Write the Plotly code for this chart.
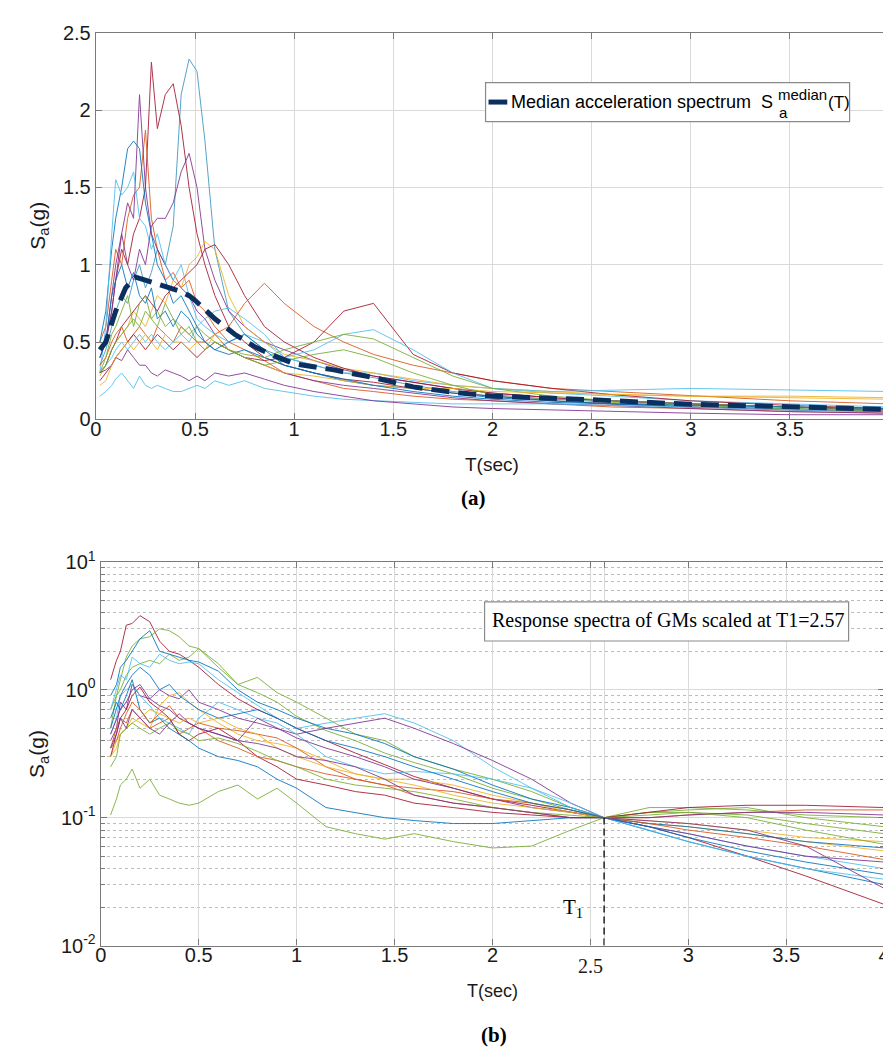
import plotly.graph_objects as go

W, H = 891, 1055

# ---------------- data: panel (a) ----------------
top_T = [0.02, 0.05, 0.08, 0.1, 0.13, 0.16, 0.19, 0.22, 0.25, 0.28, 0.31, 0.35, 0.39, 0.43, 0.47,
         0.51, 0.55, 0.6, 0.67, 0.75, 0.85, 0.95, 1.1, 1.25, 1.4, 1.6, 1.8, 2.0, 2.3, 2.6, 3.0, 3.5, 4.0]

top_records = [
    [.35, .45, .6, .7, .8, .75, .9, 1.0, .85, .95, 1.1, 1.0, 1.25, 2.1, 2.33, 2.25, 1.8, 1.1, .7, .55, .45, .4, .35, .3, .27, .22, .18, .15, .13, .12, .1, .08, .06],
    [.4, .5, .7, .9, 1.1, 1.0, 1.2, 1.3, 1.5, 2.31, 1.88, 2.1, 2.17, 1.9, 1.5, 1.2, 1.0, .8, .6, .5, .4, .35, .3, .26, .24, .2, .17, .15, .12, .1, .08, .06, .05],
    [.5, .6, .9, 1.1, 1.0, 1.3, 1.45, 1.5, 1.87, 1.3, 1.1, .9, .95, .85, .9, .75, .7, .6, .5, .45, .38, .3, .25, .2, .18, .15, .13, .12, .1, .08, .07, .05, .04],
    [.45, .5, .8, 1.0, 1.2, 1.4, 1.3, 2.1, 1.5, 1.2, 1.1, 1.0, .9, .85, .8, .7, .65, .55, .45, .4, .35, .3, .25, .22, .2, .17, .14, .12, .1, .09, .07, .05, .04],
    [.5, .7, 1.1, 1.3, 1.5, 1.75, 1.8, 1.75, 1.4, 1.2, 1.0, .9, .75, .8, .7, .6, .5, .45, .42, .45, .4, .35, .3, .25, .22, .2, .17, .14, .12, .1, .08, .07, .05],
    [.3, .6, 1.2, 1.55, 1.45, 1.5, 1.6, 1.3, 1.25, 1.1, 1.2, 1.0, .9, 1.0, .8, .65, .6, .55, .5, .55, .5, .4, .35, .3, .3, .25, .22, .2, .17, .15, .12, .1, .08],
    [.4, .5, .7, .9, 1.2, 1.0, .9, 1.1, 1.0, 1.25, 1.3, 1.3, 1.4, 1.6, 1.72, 1.5, 1.1, .9, .7, .6, .5, .45, .38, .32, .28, .24, .2, .17, .14, .12, .1, .08, .06],
    [.28, .35, .45, .5, .55, .6, .7, .65, .6, .7, .8, .75, .9, .85, 1.0, 1.05, 1.15, 1.1, .8, .6, .5, .42, .38, .33, .3, .26, .22, .2, .18, .16, .15, .14, .13],
    [.3, .35, .45, .5, .6, .65, .7, .75, .8, .75, .7, .8, .85, .9, .95, 1.0, 1.1, 1.13, 1.0, .8, .6, .5, .4, .33, .28, .24, .2, .17, .14, .12, .1, .08, .06],
    [.35, .4, .5, .55, .6, .5, .55, .6, .55, .5, .6, .55, .5, .6, .55, .5, .5, .55, .6, .75, .88, .75, .6, .5, .42, .35, .3, .25, .2, .18, .15, .12, .1],
    [.25, .3, .35, .4, .45, .5, .55, .5, .45, .5, .55, .5, .45, .5, .45, .4, .45, .5, .45, .4, .38, .4, .5, .7, .75, .42, .3, .25, .2, .16, .12, .09, .07],
    [.3, .35, .4, .45, .5, .45, .5, .55, .5, .55, .5, .45, .5, .55, .5, .6, .65, .7, .72, .65, .55, .4, .45, .55, .58, .45, .3, .2, .18, .19, .2, .19, .18],
    [.3, .35, .45, .5, .55, .6, .65, .6, .7, .65, .6, .75, .65, .6, .55, .6, .55, .5, .45, .42, .4, .45, .5, .55, .52, .4, .28, .2, .15, .12, .1, .08, .06],
    [.15, .18, .22, .26, .3, .25, .2, .28, .22, .2, .22, .2, .18, .18, .2, .22, .2, .25, .22, .25, .2, .18, .15, .13, .12, .11, .1, .1, .1, .09, .08, .06, .05],
    [.3, .32, .35, .4, .38, .45, .4, .35, .35, .3, .28, .32, .3, .28, .25, .28, .25, .3, .28, .3, .26, .22, .18, .15, .12, .1, .08, .07, .06, .05, .04, .03, .03],
    [.22, .25, .35, .4, .45, .5, .45, .5, .55, .5, .45, .55, .5, .5, .45, .5, .45, .55, .45, .4, .35, .3, .28, .25, .22, .2, .2, .18, .17, .16, .15, .15, .14],
    [.3, .4, .55, .6, .7, .8, .6, .75, .8, .65, .7, .6, .65, .55, .6, .5, .45, .5, .45, .4, .35, .38, .42, .45, .4, .3, .22, .16, .13, .11, .09, .07, .05],
    [.4, .5, .8, .9, 1.0, .85, .95, .8, .75, .85, .65, .7, .6, .7, .65, .55, .5, .45, .5, .55, .45, .35, .3, .26, .22, .18, .15, .13, .11, .1, .09, .08, .07],
]
top_colors = ["#3B96BE", "#A2142F", "#D95319", "#7E2F8E", "#0072BD", "#4DBEEE", "#7E2F8E", "#EDB120", "#A2142F",
              "#D95319", "#A2142F", "#4DBEEE", "#77AC30", "#4DBEEE", "#7E2F8E", "#EDB120", "#77AC30", "#0072BD"]

median_T = [0.02, 0.05, 0.1, 0.15, 0.2, 0.25, 0.3, 0.35, 0.42, 0.47, 0.5, 0.6, 0.7, 0.8, 0.9, 1.0,
            1.2, 1.4, 1.6, 1.8, 2.0, 2.5, 3.0, 3.5, 4.0]
median_Sa = [0.45, 0.5, 0.7, 0.85, 0.92, 0.9, 0.88, 0.86, 0.83, 0.8, 0.77, 0.65, 0.55, 0.47, 0.41, 0.36,
             0.32, 0.27, 0.21, 0.175, 0.15, 0.127, 0.097, 0.082, 0.063]

# ---------------- data: panel (b) ----------------
T1 = 2.57
bot_T = [0.05, 0.08, 0.1, 0.13, 0.16, 0.2, 0.25, 0.3, 0.35, 0.4, 0.45, 0.5, 0.6, 0.7, 0.8, 0.9, 1.0,
         1.15, 1.3, 1.45, 1.6, 1.8, 2.0, 2.2, 2.4, 2.57, 2.8, 3.0, 3.3, 3.6, 4.0]
bot_records = [
    [1.2, 1.7, 2.0, 3.2, 3.3, 3.8, 3.4, 2.4, 2.0, 1.9, 1.7, 1.5, 1.1, .85, .7, .6, .5, .4, .32, .26, .21, .17, .14, .125, .11, .1, .085, .07, .05, .035, .021],
    [.5, .9, 1.2, 1.8, 2.2, 2.5, 2.6, 3.0, 2.9, 2.6, 2.2, 2.1, 1.5, 1.1, .95, .8, .62, .48, .4, .32, .27, .22, .17, .14, .115, .1, .11, .115, .12, .1, .085],
    [.7, .9, 1.0, 1.3, 1.5, 1.6, 1.7, 1.6, 1.9, 1.7, 1.8, 2.1, 1.6, 1.1, 1.25, .95, .8, .6, .45, .4, .3, .24, .2, .16, .12, .1, .11, .11, .105, .09, .075],
    [.9, 1.1, 1.5, 1.7, 2.0, 2.5, 2.9, 2.0, 1.9, 1.8, 1.7, 1.65, 1.4, 1.0, .8, .7, .6, .5, .45, .38, .3, .24, .18, .14, .12, .1, .08, .065, .05, .04, .03],
    [.7, 1.0, 1.3, 1.2, 1.8, 1.6, 1.5, 1.9, 1.7, 1.6, 1.65, 1.6, 1.2, .95, .75, .6, .5, .55, .6, .65, .55, .4, .25, .17, .12, .1, .085, .075, .06, .05, .04],
    [.105, .14, .18, .2, .24, .17, .2, .15, .14, .13, .125, .13, .16, .18, .14, .17, .13, .085, .075, .068, .075, .065, .058, .06, .08, .1, .12, .12, .115, .105, .1],
    [.4, .5, .8, .7, 1.1, .9, .85, 1.0, .9, .85, 1.0, .8, .7, .6, .55, .5, .45, .5, .55, .6, .5, .38, .28, .2, .13, .1, .085, .075, .06, .05, .045],
    [.3, .4, .45, .5, .6, .55, .5, .75, .9, .95, .8, .7, .55, .45, .4, .38, .35, .28, .22, .2, .2, .18, .15, .13, .11, .1, .09, .085, .075, .065, .055],
    [.35, .5, .6, .55, .7, .6, .5, .55, .6, .45, .5, .55, .5, .48, .45, .42, .35, .25, .2, .18, .15, .13, .12, .11, .1, .1, .1, .105, .11, .115, .115],
    [.3, .45, .6, .7, .9, 1.05, .8, .7, .6, .45, .4, .45, .5, .4, .3, .25, .2, .18, .16, .15, .13, .12, .11, .105, .1, .1, .11, .12, .125, .125, .12],
    [.45, .6, .9, 1.0, 1.1, .9, .75, .6, .55, .5, .45, .6, .8, .7, .6, .55, .45, .3, .25, .22, .23, .22, .2, .17, .13, .1, .08, .065, .05, .04, .033],
    [.6, .8, .7, .9, 1.2, .7, .55, .6, .5, .45, .4, .35, .3, .28, .25, .2, .17, .12, .11, .1, .095, .09, .09, .095, .1, .1, .09, .085, .075, .065, .058],
    [.45, .6, .7, .8, 1.0, 1.1, .85, .75, .7, .6, .55, .5, .45, .4, .6, .5, .42, .35, .3, .25, .2, .17, .14, .12, .11, .1, .1, .105, .11, .11, .105],
    [.35, .4, .5, .65, .8, .7, .55, .65, .75, .6, .55, .5, .4, .35, .3, .28, .25, .22, .2, .18, .17, .16, .14, .13, .115, .1, .09, .08, .07, .06, .047],
    [.3, .35, .45, .5, .55, .6, .7, .65, .6, .55, .6, .55, .6, .5, .45, .35, .3, .25, .22, .2, .18, .15, .13, .12, .11, .1, .095, .09, .08, .07, .065],
    [.5, .7, .9, 1.1, 1.3, 1.5, 1.3, 1.0, 1.1, .9, .8, .7, .6, .65, .7, .6, .5, .4, .35, .3, .25, .2, .16, .13, .115, .1, .085, .07, .055, .045, .036],
    [.25, .3, .45, .5, .55, .5, .45, .5, .55, .48, .45, .4, .42, .38, .33, .28, .25, .2, .18, .17, .16, .14, .12, .11, .105, .1, .105, .11, .1, .08, .062],
    [.35, .45, .6, .5, .7, .6, .5, .45, .55, .65, .55, .5, .45, .4, .38, .35, .3, .28, .25, .2, .15, .13, .12, .11, .1, .1, .095, .09, .08, .06, .028],
]
bot_colors = ["#A2142F", "#77AC30", "#77AC30", "#0072BD", "#4DBEEE", "#77AC30", "#7E2F8E", "#EDB120", "#D95319",
              "#A2142F", "#4DBEEE", "#0072BD", "#7E2F8E", "#D95319", "#EDB120", "#0072BD", "#77AC30", "#7E2F8E"]

x_ticks = [0, 0.5, 1, 1.5, 2, 2.5, 3, 3.5, 4]
x_ticktext = ["0", "0.5", "1", "1.5", "2", "2.5", "3", "3.5", "4"]
ya_ticks = [0, 0.5, 1, 1.5, 2, 2.5]
ya_ticktext = ["0", "0.5", "1", "1.5", "2", "2.5"]
yb_ticks = [0.01, 0.1, 1, 10]
yb_ticktext = ["10<sup>-2</sup>", "10<sup>-1</sup>", "10<sup>0</sup>", "10<sup>1</sup>"]

for r in top_records:
    assert len(r) == len(top_T)
for r in bot_records:
    assert len(r) == len(bot_T)

# ---------------- figure ----------------
def px(x):
    return x / W

def py(y):
    return 1 - y / H

SANS = "Liberation Sans, Arial, sans-serif"
SERIF = "Liberation Serif, Times New Roman, serif"
AX = "#7a7a7a"
GRID = "#d9d9d9"

fig = go.Figure()
for vals, c in zip(top_records, top_colors):
    fig.add_trace(go.Scatter(x=top_T, y=vals, mode="lines", line=dict(color=c, width=1), opacity=0.85,
                             xaxis="x", yaxis="y", showlegend=False, hoverinfo="skip"))
fig.add_trace(go.Scatter(x=median_T, y=median_Sa, mode="lines",
                         line=dict(color="#0B2F5E", width=5, dash="18px,9px"),
                         xaxis="x", yaxis="y", showlegend=False, hoverinfo="skip"))

for vals, c in zip(bot_records, bot_colors):
    fig.add_trace(go.Scatter(x=bot_T, y=vals, mode="lines", line=dict(color=c, width=1), opacity=0.85,
                             xaxis="x2", yaxis="y2", showlegend=False, hoverinfo="skip"))
fig.add_trace(go.Scatter(x=[T1, T1], y=[0.01, 0.1], mode="lines",
                         line=dict(color="black", width=1.3, dash="7px,4px"),
                         xaxis="x2", yaxis="y2", showlegend=False, hoverinfo="skip"))

common = dict(showgrid=True, gridcolor=GRID, gridwidth=1, showline=True, linecolor=AX, linewidth=1.3,
              mirror="ticks", ticks="inside", ticklen=6, tickcolor=AX, zeroline=False,
              ticklabeloverflow="allow",
              tickfont=dict(family=SANS, size=20, color="#1a1a1a"))

minor_vals = [m * 10 ** e for e in (-2, -1, 0) for m in range(2, 10)]

fig.update_layout(
    width=W, height=H, autosize=False,
    margin=dict(l=0, r=0, t=0, b=0),
    paper_bgcolor="white", plot_bgcolor="white",
    xaxis=dict(domain=[px(83), px(887)], range=[0, 4], anchor="y", ticklabelstandoff=-9,
               tickmode="array", tickvals=x_ticks, ticktext=x_ticktext, **common),
    yaxis=dict(domain=[py(407), py(11)], range=[0, 2.5], anchor="x",
               tickmode="array", tickvals=ya_ticks, ticktext=ya_ticktext, **common),
    xaxis2=dict(domain=[px(88), px(882)], range=[0, 4], anchor="y2", ticklabelstandoff=-9,
                tickmode="array", tickvals=x_ticks[:5] + [2.5, T1] + x_ticks[6:],
                ticktext=x_ticktext[:5] + ["", ""] + x_ticktext[6:], **common),
    yaxis2=dict(domain=[py(946), py(553)], type="log", range=[-2, 1], anchor="x2",
                tickmode="array", tickvals=yb_ticks, ticktext=yb_ticktext,
                minor=dict(tickmode="array", tickvals=minor_vals, showgrid=True, griddash="dot",
                           gridcolor="#bdbdbd", gridwidth=1, ticks="inside", ticklen=4, tickcolor=AX),
                **common),
)

shapes = []
ann = []
# legend (a)
shapes.append(dict(type="rect", xref="paper", yref="paper", x0=px(478), x1=px(847), y0=py(102), y1=py(62),
                   line=dict(color="#8a8a8a", width=1.2), fillcolor="white", layer="above"))
shapes.append(dict(type="line", xref="paper", yref="paper", x0=px(481), x1=px(500), y0=py(82), y1=py(82),
                   line=dict(color="#0B2F5E", width=5), layer="above"))
ann.append(dict(text="Median acceleration spectrum  S", x=px(771), y=py(82), xref="paper", yref="paper",
                xanchor="right", yanchor="middle", showarrow=False, font=dict(family=SANS, size=18, color="black")))
ann.append(dict(text="median", x=px(772), y=py(74), xref="paper", yref="paper",
                xanchor="left", yanchor="middle", showarrow=False, font=dict(family=SANS, size=15, color="black")))
ann.append(dict(text="a", x=px(773), y=py(93), xref="paper", yref="paper",
                xanchor="left", yanchor="middle", showarrow=False, font=dict(family=SANS, size=15, color="black")))
ann.append(dict(text="(T)", x=px(823), y=py(82), xref="paper", yref="paper",
                xanchor="left", yanchor="middle", showarrow=False, font=dict(family=SANS, size=17, color="black")))
# legend (b)
shapes.append(dict(type="rect", xref="paper", yref="paper", x0=px(477), x1=px(846), y0=py(634), y1=py(594),
                   line=dict(color="#8a8a8a", width=1.2), fillcolor="white", layer="above"))
ann.append(dict(text="Response spectra of GMs scaled at T1=2.57", x=px(663), y=py(613), xref="paper", yref="paper",
                xanchor="center", yanchor="middle", showarrow=False, font=dict(family=SERIF, size=20, color="black")))
# axis titles
ann.append(dict(text="T(sec)", x=px(485), y=py(453), xref="paper", yref="paper", xanchor="center", yanchor="middle",
                showarrow=False, font=dict(family=SANS, size=19, color="#1a1a1a")))
ann.append(dict(text="T(sec)", x=px(485), y=py(993), xref="paper", yref="paper", xanchor="center", yanchor="middle",
                showarrow=False, font=dict(family=SANS, size=18, color="#1a1a1a")))
ann.append(dict(text="S<sub>a</sub>(g)", x=px(25), y=py(209), xref="paper", yref="paper", xanchor="center",
                yanchor="middle", textangle=-90, showarrow=False, font=dict(family=SANS, size=21, color="#1a1a1a")))
ann.append(dict(text="S<sub>a</sub>(g)", x=px(25), y=py(750), xref="paper", yref="paper", xanchor="center",
                yanchor="middle", textangle=-90, showarrow=False, font=dict(family=SANS, size=21, color="#1a1a1a")))
# panel labels
ann.append(dict(text="<b>(a)</b>", x=px(466), y=py(488), xref="paper", yref="paper", xanchor="center",
                yanchor="middle", showarrow=False, font=dict(family=SERIF, size=21, color="black")))
ann.append(dict(text="<b>(b)</b>", x=px(487), y=py(1038), xref="paper", yref="paper", xanchor="center",
                yanchor="middle", showarrow=False, font=dict(family=SERIF, size=21, color="black")))
# T1 marker labels
ann.append(dict(text="T<sub>1</sub>", x=px(567), y=py(907), xref="paper", yref="paper", xanchor="center",
                yanchor="middle", showarrow=False, font=dict(family=SERIF, size=21, color="black")))
ann.append(dict(text="2.5", x=2.5, xref="x2", y=py(967), yref="paper", xanchor="center",
                yanchor="middle", showarrow=False, font=dict(family=SERIF, size=20, color="#1a1a1a")))

fig.update_layout(shapes=shapes, annotations=ann)
fig.write_html("out.html")
